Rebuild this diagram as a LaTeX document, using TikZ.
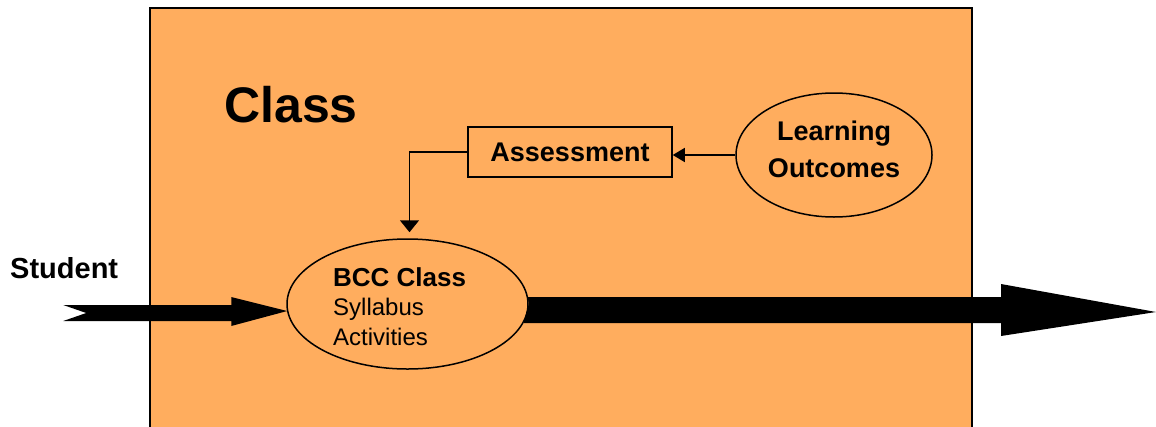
\documentclass[tikz,border=0pt]{standalone}
\usepackage{fontspec}
\setmainfont{Liberation Sans}
\usetikzlibrary{arrows.meta,shapes.geometric,calc}
\definecolor{classorange}{RGB}{255,173,94}
\begin{document}
\begin{tikzpicture}[x=1pt,y=-1pt,
  thinline/.style={line width=1.5pt},
  oval/.style={ellipse, draw, thinline, inner sep=0pt},
  smallhead/.style={-{Triangle[length=12pt,width=14pt]}},
  bold27/.style={font=\fontsize{27}{37}\selectfont\bfseries}]
\useasboundingbox (0,0) rectangle (1156,426);
% class frame
\fill[classorange] (150,8) rectangle (972,440);
\draw[line width=2pt] (150,440) -- (150,8) -- (972,8) -- (972,440);
% labels
\node[font=\fontsize{50}{50}\selectfont\bfseries, anchor=base west, inner sep=0] (classlbl) at (224,122) {Class};
\node[font=\fontsize{29}{29}\selectfont\bfseries, anchor=base west, inner sep=0] (student) at (10,278) {Student};
% nodes
\node[draw, thinline, minimum width=204pt, minimum height=50pt, inner sep=0, bold27] (assess) at (570,152) {Assessment};
\node[oval, minimum width=196pt, minimum height=124pt, bold27, align=center] (lo) at (834,155) {Learning\\Outcomes\rule[-12pt]{0pt}{0pt}};
\node[oval, minimum width=241pt, minimum height=130pt] (bcc) at (407.5,304) {};
\node[align=left, anchor=north west, inner sep=0, font=\fontsize{24}{29.5}\selectfont] (bcctext) at (333,267)
  {{\fontsize{26}{29.5}\selectfont\bfseries BCC Class}\\
   Syllabus\\
   Activities};
% connectors
\coordinate (fbTip) at ($(bcc.north)+(2,-6)$);
\draw[thinline, smallhead] (lo.west) -- (lo.west -| assess.east);
\draw[thinline, -{Triangle[length=12pt,width=19pt]}] (assess.west) -| (fbTip);
% student input arrow
\coordinate (inTip) at ($(bcc.west)+(1,7)$);
\fill (inTip) -- ++(-56,-14) -- ++(0,8) -- ++(-168,0) -- ++(23,8) -- ++(-23,8) -- ++(168,0) -- ++(0,5) -- cycle;
% big output arrow
\coordinate (outTip) at (1156,312);
\fill ($(bcc.east)+(-1,-7)$) -- (1001,297) -- (1001,284) -- (outTip) -- (1001,336) -- (1001,323)
  -- ($(bcc.east)+(-5,19)$) -- (bcc.east) -- cycle;
\end{tikzpicture}
\end{document}
